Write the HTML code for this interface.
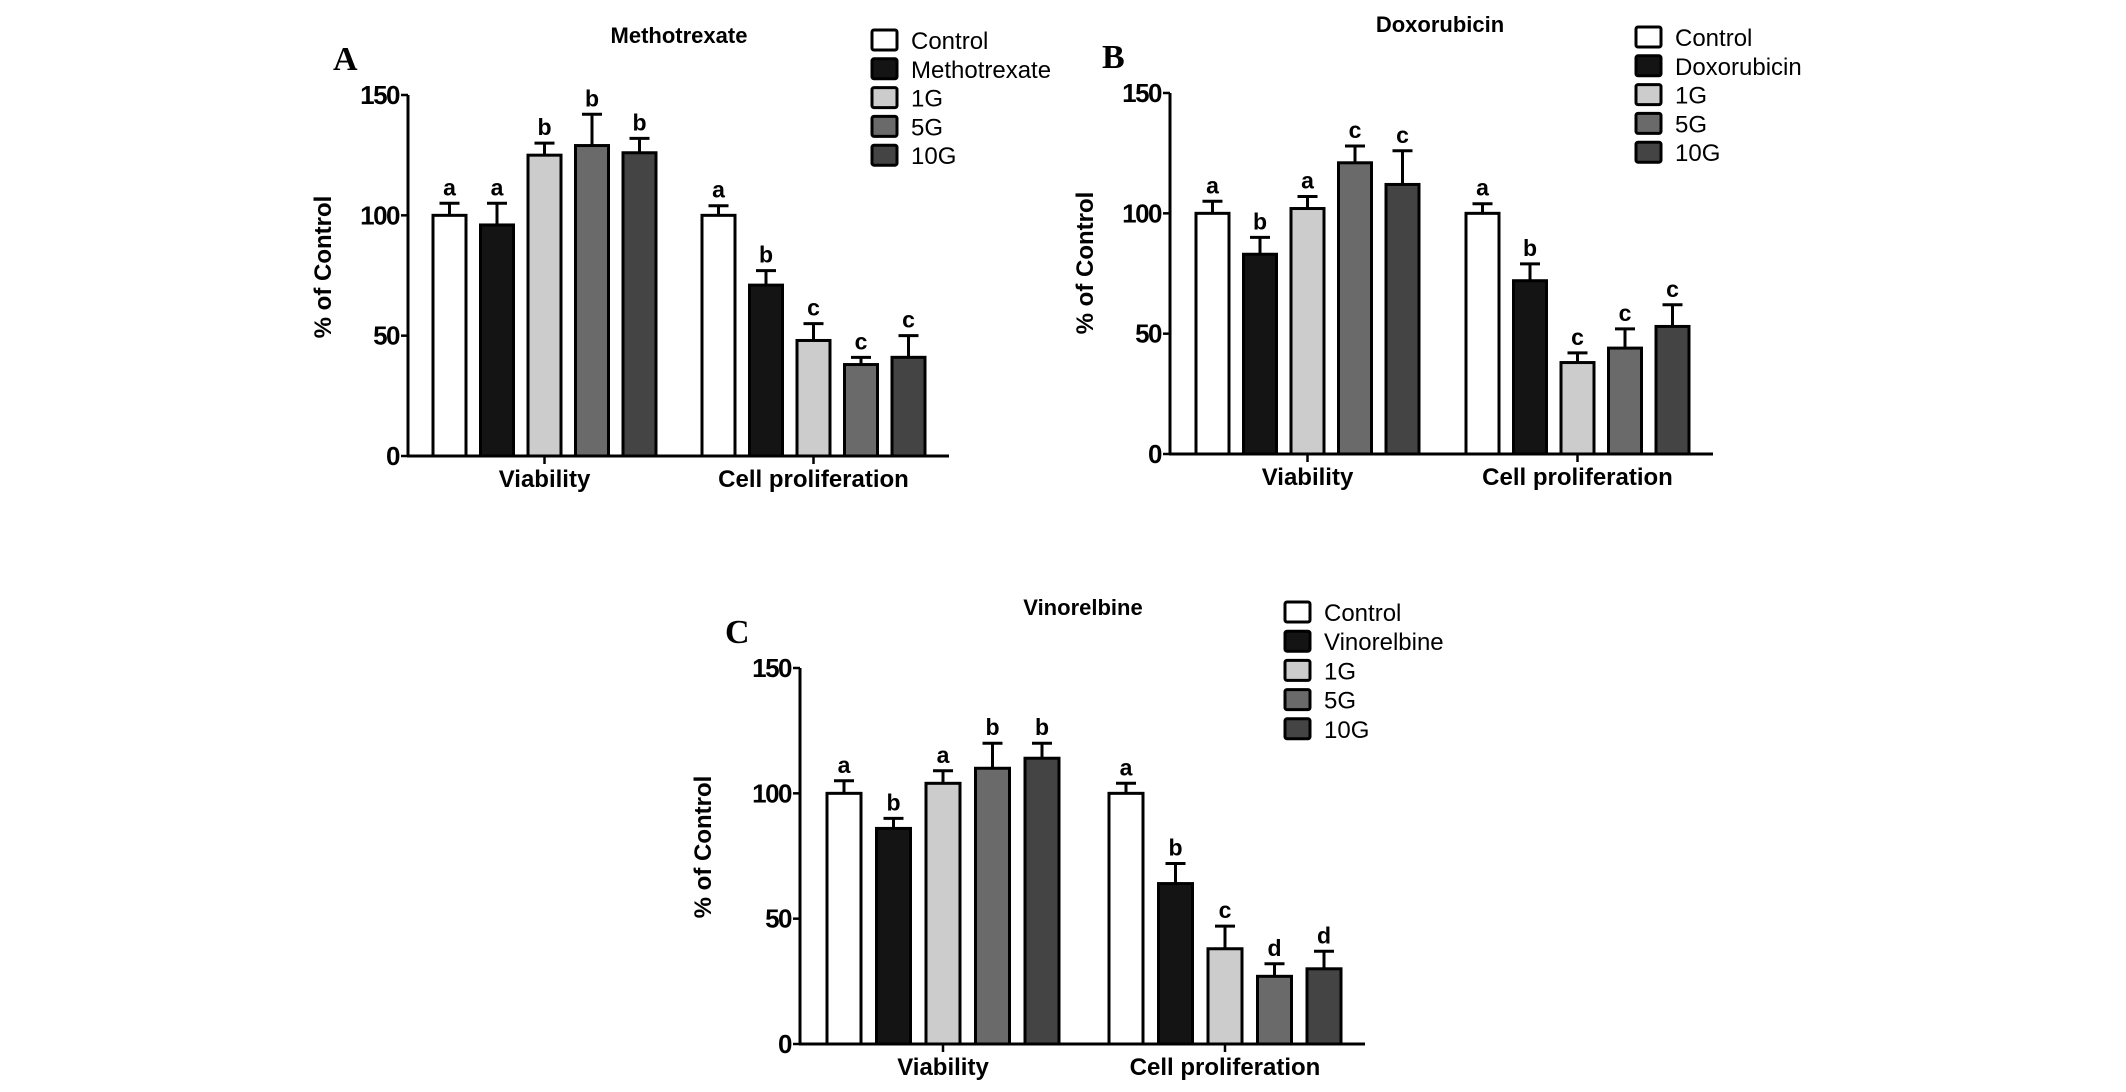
<!DOCTYPE html>
<html><head><meta charset="utf-8"><style>
html,body{margin:0;padding:0;background:#fff;}
svg{display:block;}
text{font-family:"Liberation Sans",sans-serif;}
</style></head><body>
<svg id="chart" width="2126" height="1092" viewBox="0 0 2126 1092"></svg>
<script>
const categories = ["Viability", "Cell proliferation"];
const seriesNamesA = ["Control", "Methotrexate", "1G", "5G", "10G"];
const seriesNamesB = ["Control", "Doxorubicin", "1G", "5G", "10G"];
const seriesNamesC = ["Control", "Vinorelbine", "1G", "5G", "10G"];
const yTicks = [0, 50, 100, 150];
// values [category][series]
const valuesA = [[100, 96, 125, 129, 126], [100, 71, 48, 38, 41]];
const errorsA = [[5, 9, 5, 13, 6], [4, 6, 7, 3, 9]];
const lettersA = [["a","a","b","b","b"], ["a","b","c","c","c"]];
const valuesB = [[100, 83, 102, 121, 112], [100, 72, 38, 44, 53]];
const errorsB = [[5, 7, 5, 7, 14], [4, 7, 4, 8, 9]];
const lettersB = [["a","b","a","c","c"], ["a","b","c","c","c"]];
const valuesC = [[100, 86, 104, 110, 114], [100, 64, 38, 27, 30]];
const errorsC = [[5, 4, 5, 10, 6], [4, 8, 9, 5, 7]];
const lettersC = [["a","b","a","b","b"], ["a","b","c","d","d"]];
const fills = ["#ffffff", "#141414", "#cccccc", "#6a6a6a", "#444444"];

const NS = "http://www.w3.org/2000/svg";
const svg = document.getElementById("chart");
function mk(tag, attrs, parent, txt) {
  const e = document.createElementNS(NS, tag);
  for (const k in attrs) e.setAttribute(k, attrs[k]);
  if (txt !== undefined) e.textContent = txt;
  (parent || svg).appendChild(e);
  return e;
}

function panel(p, names, values, errors, letters) {
  const g = mk("g", {});
  
  
  const y = v => p.y0 - (p.y0 - p.y150) * v / 150;
  const ya = mk("line", {x1: p.ax, y1: p.y150, x2: p.ax, y2: p.y0 + 1, stroke: "#000", "stroke-width": 3}, g);
  
  
  const xa = mk("line", {x1: p.ax - 1, y1: p.y0, x2: p.axEnd, y2: p.y0, stroke: "#000", "stroke-width": 3}, g);
  
  
  yTicks.forEach(t => {
    mk("line", {x1: p.ax - 7, y1: y(t), x2: p.ax, y2: y(t), stroke: "#000", "stroke-width": 2.5}, g);
    const tl = mk("text", {x: p.ax - 9, y: y(t) + 9, "text-anchor": "end", "font-size": 26, "font-weight": "bold", "letter-spacing": -1.5}, g, String(t));
    
    
  });
  const yt = mk("text", {x: p.ytx, y: p.yty, "text-anchor": "middle", "font-size": 24, "font-weight": "bold",
    transform: "rotate(-90 " + p.ytx + " " + p.yty + ")"}, g, "% of Control");
  
  
  const tt = mk("text", {x: p.tx, y: p.ty, "text-anchor": "middle", "font-size": 22, "font-weight": "bold"}, g, p.title);
  
  
  const pl = mk("text", {x: p.lx, y: p.ly, "font-size": 34, "font-weight": "bold", style: "font-family:'Liberation Serif',serif"}, g, p.label);
  
  
  categories.forEach((c, ci) => {
    const gx0 = p.groupStart[ci];
    values[ci].forEach((v, si) => {
      const bx = gx0 + si * p.step;
      const top = y(v), et = y(v + errors[ci][si]);
      const cx = bx + p.bw / 2;
      const el = mk("line", {x1: cx, y1: top, x2: cx, y2: et, stroke: "#000", "stroke-width": 3}, g);
      
      
      mk("line", {x1: cx - 10, y1: et, x2: cx + 10, y2: et, stroke: "#000", "stroke-width": 3}, g);
      const r = mk("rect", {x: bx, y: top, width: p.bw, height: p.y0 - top, fill: fills[si], stroke: "#000", "stroke-width": 3}, g);
      
      
      const lt = mk("text", {x: cx, y: et - 8, "text-anchor": "middle", "font-size": 23, "font-weight": "bold"}, g, letters[ci][si]);
      
      
    });
    const center = gx0 + (4 * p.step + p.bw) / 2;
    mk("line", {x1: center, y1: p.y0, x2: center, y2: p.y0 + 8, stroke: "#000", "stroke-width": 2.5}, g);
    const cl = mk("text", {x: center, y: p.y0 + 31, "text-anchor": "middle", "font-size": 24, "font-weight": "bold"}, g, c);
    
    
  });
  names.forEach((n, si) => {
    const ry = p.legY + si * p.legStep;
    const lb = mk("rect", {x: p.legX, y: ry - 10, width: 25, height: 20, rx: 2, fill: fills[si], stroke: "#000", "stroke-width": 3}, g);
    
    
    const lt = mk("text", {x: p.legX + 39, y: ry + 9, "font-size": 24}, g, n);
    
    
  });
}

panel({label: "A", title: "Methotrexate", ax: 408, axEnd: 949, y0: 456, y150: 95, groupStart: [433, 702], step: 47.5, bw: 33,
  ytx: 331, yty: 267, tx: 679, ty: 43, lx: 333, ly: 70, legX: 872, legY: 40, legStep: 28.8},
  seriesNamesA, valuesA, errorsA, lettersA);
panel({label: "B", title: "Doxorubicin", ax: 1170, axEnd: 1713, y0: 454, y150: 93, groupStart: [1196, 1466], step: 47.5, bw: 33,
  ytx: 1093, yty: 263, tx: 1440, ty: 32, lx: 1102, ly: 68, legX: 1636, legY: 37, legStep: 28.8},
  seriesNamesB, valuesB, errorsB, lettersB);
panel({label: "C", title: "Vinorelbine", ax: 800, axEnd: 1365, y0: 1044, y150: 668, groupStart: [827, 1109], step: 49.5, bw: 34,
  ytx: 711, yty: 847, tx: 1083, ty: 615, lx: 725, ly: 643, legX: 1285, legY: 612, legStep: 29.2},
  seriesNamesC, valuesC, errorsC, lettersC);
</script>
</body></html>
